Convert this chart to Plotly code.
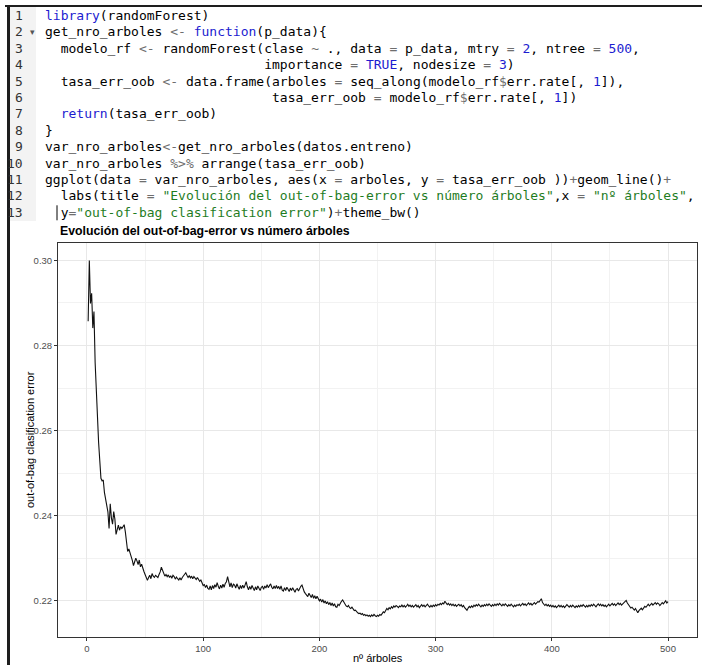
import plotly.graph_objects as go

# ---------------- data ----------------
tasa_err_oob = [
    0.2857, 0.3000, 0.2899, 0.2923, 0.2841, 0.2880, 0.2760, 0.2685, 0.2610, 0.2572,
    0.2530, 0.2488, 0.2482, 0.2484, 0.2455, 0.2440, 0.2420, 0.2409, 0.2370, 0.2428,
    0.2395, 0.2380, 0.2410, 0.2392, 0.2356, 0.2372, 0.2378, 0.2366, 0.2374, 0.2370,
    0.2376, 0.2379, 0.2362, 0.2335, 0.2316, 0.2322, 0.2313, 0.2310, 0.2295, 0.2283,
    0.2290, 0.2300, 0.2294, 0.2285, 0.2296, 0.2280, 0.2286, 0.2275, 0.2269, 0.2262,
    0.2256, 0.2248, 0.2255, 0.2260, 0.2252, 0.2264, 0.2258, 0.2255, 0.2260, 0.2257,
    0.2255, 0.2262, 0.2268, 0.2279, 0.2272, 0.2264, 0.2258, 0.2262, 0.2257, 0.2261,
    0.2255, 0.2259, 0.2253, 0.2260, 0.2257, 0.2251, 0.2256, 0.2252, 0.2249, 0.2254,
    0.2249, 0.2255, 0.2258, 0.2262, 0.2266, 0.2260, 0.2255, 0.2259, 0.2254, 0.2258,
    0.2252, 0.2257, 0.2254, 0.2250, 0.2255, 0.2251, 0.2246, 0.2249, 0.2242, 0.2236,
    0.2238, 0.2231, 0.2237, 0.2229, 0.2227, 0.2235, 0.2226, 0.2236, 0.2229, 0.2238,
    0.2232, 0.2243, 0.2234, 0.2228, 0.2237, 0.2230, 0.2239, 0.2232, 0.2241, 0.2245,
    0.2257, 0.2240, 0.2233, 0.2242, 0.2231, 0.2239, 0.2237, 0.2230, 0.2240, 0.2233,
    0.2227, 0.2236, 0.2229, 0.2237, 0.2230, 0.2237, 0.2245, 0.2233, 0.2226, 0.2234,
    0.2227, 0.2236, 0.2229, 0.2224, 0.2233, 0.2226, 0.2235, 0.2229, 0.2224, 0.2232,
    0.2234, 0.2227, 0.2235, 0.2230, 0.2238, 0.2231, 0.2236, 0.2240, 0.2232, 0.2228,
    0.2235, 0.2229, 0.2236, 0.2229, 0.2234, 0.2227, 0.2235, 0.2225, 0.2223, 0.2231,
    0.2224, 0.2232, 0.2227, 0.2222, 0.2230, 0.2224, 0.2231, 0.2226, 0.2220, 0.2227,
    0.2229, 0.2223, 0.2230, 0.2234, 0.2237, 0.2227, 0.2221, 0.2217, 0.2214, 0.2210,
    0.2218, 0.2213, 0.2208, 0.2215, 0.2206, 0.2212, 0.2205, 0.2211, 0.2203, 0.2200,
    0.2204, 0.2197, 0.2203, 0.2195, 0.2200, 0.2193, 0.2198, 0.2191, 0.2196, 0.2189,
    0.2195, 0.2188, 0.2193, 0.2186, 0.2185, 0.2192, 0.2189, 0.2196, 0.2199, 0.2202,
    0.2196, 0.2192, 0.2188, 0.2186, 0.2189, 0.2184, 0.2182, 0.2185, 0.2180, 0.2177,
    0.2178, 0.2174, 0.2172, 0.2170, 0.2171, 0.2168, 0.2170, 0.2166, 0.2168, 0.2165,
    0.2167, 0.2164, 0.2166, 0.2163, 0.2167, 0.2164, 0.2168, 0.2165, 0.2163, 0.2166,
    0.2164, 0.2168, 0.2166, 0.2170, 0.2174, 0.2172, 0.2178, 0.2182, 0.2179, 0.2184,
    0.2181, 0.2186, 0.2183, 0.2188, 0.2185, 0.2189, 0.2187, 0.2184, 0.2188, 0.2186,
    0.2190, 0.2186, 0.2189, 0.2185, 0.2188, 0.2192, 0.2187, 0.2190, 0.2186, 0.2189,
    0.2185, 0.2188, 0.2191, 0.2186, 0.2189, 0.2184, 0.2188, 0.2191, 0.2187, 0.2190,
    0.2186, 0.2189, 0.2192, 0.2188, 0.2185, 0.2189, 0.2186, 0.2190, 0.2187, 0.2191,
    0.2188, 0.2192, 0.2190, 0.2194, 0.2191, 0.2195, 0.2193, 0.2199, 0.2194, 0.2191,
    0.2194, 0.2190, 0.2193, 0.2189, 0.2192, 0.2188, 0.2191, 0.2187, 0.2190, 0.2192,
    0.2188, 0.2191, 0.2186, 0.2189, 0.2184, 0.2181, 0.2178, 0.2183, 0.2187, 0.2184,
    0.2188, 0.2185, 0.2190, 0.2187, 0.2191, 0.2188, 0.2192, 0.2189, 0.2186, 0.2190,
    0.2187, 0.2191, 0.2188, 0.2192, 0.2189, 0.2193, 0.2190, 0.2187, 0.2191, 0.2188,
    0.2192, 0.2189, 0.2193, 0.2190, 0.2194, 0.2191, 0.2188, 0.2192, 0.2189, 0.2193,
    0.2190, 0.2187, 0.2191, 0.2188, 0.2192, 0.2189, 0.2186, 0.2190, 0.2187, 0.2191,
    0.2189, 0.2192, 0.2188, 0.2191, 0.2194, 0.2190, 0.2193, 0.2189, 0.2192, 0.2195,
    0.2191, 0.2194, 0.2190, 0.2193, 0.2196, 0.2192, 0.2195, 0.2198, 0.2197, 0.2200,
    0.2205, 0.2196, 0.2191, 0.2189, 0.2192, 0.2188, 0.2191, 0.2187, 0.2190, 0.2186,
    0.2189, 0.2185, 0.2188, 0.2184, 0.2187, 0.2190, 0.2186, 0.2189, 0.2185, 0.2188,
    0.2184, 0.2187, 0.2191, 0.2188, 0.2185, 0.2189, 0.2186, 0.2190, 0.2187, 0.2184,
    0.2188, 0.2185, 0.2189, 0.2186, 0.2190, 0.2187, 0.2191, 0.2188, 0.2185, 0.2189,
    0.2186, 0.2190, 0.2187, 0.2191, 0.2188, 0.2192, 0.2189, 0.2186, 0.2190, 0.2193,
    0.2189, 0.2192, 0.2188, 0.2191, 0.2187, 0.2190, 0.2186, 0.2189, 0.2192, 0.2188,
    0.2191, 0.2194, 0.2190, 0.2193, 0.2189, 0.2192, 0.2195, 0.2191, 0.2194, 0.2190,
    0.2193, 0.2196, 0.2199, 0.2201, 0.2195, 0.2190, 0.2186, 0.2183, 0.2185, 0.2181,
    0.2178, 0.2182, 0.2176, 0.2172, 0.2177, 0.2180, 0.2183, 0.2179, 0.2184, 0.2187,
    0.2185, 0.2189, 0.2192, 0.2188, 0.2191, 0.2194, 0.2190, 0.2193, 0.2196, 0.2192,
    0.2195, 0.2193, 0.2189, 0.2192, 0.2196, 0.2193, 0.2197, 0.2200, 0.2195, 0.2198,
]
arboles = list(range(1, len(tasa_err_oob) + 1))

x_tick_vals = [0, 100, 200, 300, 400, 500]
x_tick_text = ["0", "100", "200", "300", "400", "500"]
x_minor_vals = [50, 150, 250, 350, 450]
y_tick_vals = [0.22, 0.24, 0.26, 0.28, 0.30]
y_tick_text = ["0.22", "0.24", "0.26", "0.28", "0.30"]
y_minor_vals = [0.23, 0.25, 0.27, 0.29]

chart_title = "Evolución del out-of-bag-error vs número árboles"
x_title = "nº árboles"
y_title = "out-of-bag clasification error"

# ---------------- code listing (R source shown above the chart) ----------------
D, K, N, S, O = "#000000", "#1c1cd0", "#1c1cd0", "#1f7d1f", "#6e6e6e"
code_lines = [
    [("library", K), ("(randomForest)", D)],
    [("get_nro_arboles ", D), ("<-", O), (" ", D), ("function", K), ("(p_data){", D)],
    [("  modelo_rf ", D), ("<-", O), (" randomForest(clase ", D), ("~", O), (" ., data ", D),
     ("=", O), (" p_data, mtry ", D), ("=", O), (" ", D), ("2", N), (", ntree ", D), ("=", O),
     (" ", D), ("500", N), (",", D)],
    [(" " * 28 + "importance ", D), ("=", O), (" ", D), ("TRUE", N), (", nodesize ", D),
     ("=", O), (" ", D), ("3", N), (")", D)],
    [("  tasa_err_oob ", D), ("<-", O), (" data.frame(arboles ", D), ("=", O),
     (" seq_along(modelo_rf", D), ("$", O), ("err.rate[, ", D), ("1", N), ("]),", D)],
    [(" " * 29 + "tasa_err_oob ", D), ("=", O), (" modelo_rf", D), ("$", O),
     ("err.rate[, ", D), ("1", N), ("])", D)],
    [("  ", D), ("return", K), ("(tasa_err_oob)", D)],
    [("}", D)],
    [("var_nro_arboles", D), ("<-", O), ("get_nro_arboles(datos.entreno)", D)],
    [("var_nro_arboles ", D), ("%>%", O), (" arrange(tasa_err_oob)", D)],
    [("ggplot(data ", D), ("=", O), (" var_nro_arboles, aes(x ", D), ("=", O),
     (" arboles, y ", D), ("=", O), (" tasa_err_oob ))", D), ("+", O), ("geom_line()", D),
     ("+", O)],
    [("  labs(title ", D), ("=", O), (" ", D),
     ('"Evolución del out-of-bag-error vs número árboles"', S), (",x ", D), ("=", O),
     (" ", D), ('"nº árboles"', S), (",", D)],
    [("  y", D), ("=", O), ('"out-of-bag clasification error"', S), (")", D), ("+", O),
     ("theme_bw()", D)],
]

W, H = 702, 665


def fx(p):
    return p / W


def fy(p):
    return 1 - p / H


def esc(t):
    return (t.replace("&", "&amp;").replace("<", "&lt;").replace(">", "&gt;")
            .replace(" ", "\u00a0"))


fig = go.Figure()
fig.add_trace(go.Scatter(x=arboles, y=tasa_err_oob, mode="lines",
                         line=dict(color="#111111", width=1.1), hoverinfo="skip",
                         showlegend=False))

annotations = []
shapes = []

# editor frame
shapes.append(dict(type="rect", xref="paper", yref="paper", x0=fx(9), x1=fx(36),
                   y0=fy(221), y1=fy(7), fillcolor="#f3f3f3", line=dict(width=0), layer="below"))
shapes.append(dict(type="line", xref="paper", yref="paper", x0=fx(5), x1=fx(702),
                   y0=fy(6), y1=fy(6), line=dict(color="#1e1e1e", width=2)))
shapes.append(dict(type="line", xref="paper", yref="paper", x0=fx(8.5), x1=fx(8.5),
                   y0=fy(5), y1=fy(665), line=dict(color="#1e1e1e", width=3)))

line0, step = 15.5, 16.4
for i, toks in enumerate(code_lines):
    yc = line0 + i * step
    txt = "".join('<span style="color:%s">%s</span>' % (c, esc(t)) for t, c in toks)
    annotations.append(dict(text=txt, xref="paper", yref="paper", x=fx(43), y=fy(yc),
                            xanchor="left", yanchor="middle", showarrow=False, align="left",
                            font=dict(family="DejaVu Sans Mono", size=13, color="#000")))
    annotations.append(dict(text=str(i + 1), xref="paper", yref="paper", x=fx(25), y=fy(yc),
                            xanchor="right", yanchor="middle", showarrow=False,
                            font=dict(family="DejaVu Sans Mono", size=13, color="#333333")))
# fold marker on line 2
annotations.append(dict(text="▾", xref="paper", yref="paper", x=fx(32), y=fy(line0 + step),
                        xanchor="center", yanchor="middle", showarrow=False,
                        font=dict(family="DejaVu Sans", size=9, color="#555555")))
# text cursor on line 13
shapes.append(dict(type="line", xref="paper", yref="paper", x0=fx(57), x1=fx(57),
                   y0=fy(line0 + 12 * step - 7), y1=fy(line0 + 12 * step + 8),
                   line=dict(color="#000000", width=1)))

# chart title and axis titles
annotations.append(dict(text="<b>%s</b>" % chart_title, xref="paper", yref="paper",
                        x=fx(58), y=fy(231), xanchor="left", yanchor="middle", showarrow=False,
                        font=dict(family="Liberation Sans", size=12.3, color="#000000")))
annotations.append(dict(text=x_title, xref="paper", yref="paper", x=fx(377.5), y=fy(658),
                        xanchor="center", yanchor="middle", showarrow=False,
                        font=dict(family="Liberation Sans", size=11, color="#000000")))
annotations.append(dict(text=y_title, xref="paper", yref="paper", x=fx(30), y=fy(440),
                        xanchor="center", yanchor="middle", showarrow=False, textangle=-90,
                        font=dict(family="Liberation Sans", size=11, color="#000000")))

fig.update_layout(
    width=W, height=H, margin=dict(l=0, r=0, t=0, b=0),
    paper_bgcolor="white", plot_bgcolor="white",
    annotations=annotations, shapes=shapes, showlegend=False,
    xaxis=dict(domain=[fx(58), fx(697)], range=[-24.95, 524.95], automargin=False,
               tickmode="array", tickvals=x_tick_vals, ticktext=x_tick_text,
               ticks="outside", ticklen=3, tickcolor="#333333", tickwidth=1,
               tickfont=dict(family="Liberation Sans", size=9.5, color="#4d4d4d"),
               showgrid=True, gridcolor="#e8e8e8", gridwidth=1, zeroline=False,
               showline=True, mirror=True, linecolor="#333333", linewidth=1,
               minor=dict(tickmode="array", tickvals=x_minor_vals, showgrid=True,
                          gridcolor="#f2f2f2", gridwidth=0.6, ticks="")),
    yaxis=dict(domain=[fy(637), fy(243)], range=[0.2115, 0.3041], automargin=False,
               tickmode="array", tickvals=y_tick_vals, ticktext=y_tick_text,
               ticks="outside", ticklen=3, tickcolor="#333333", tickwidth=1,
               tickfont=dict(family="Liberation Sans", size=9.5, color="#4d4d4d"),
               showgrid=True, gridcolor="#e8e8e8", gridwidth=1, zeroline=False,
               showline=True, mirror=True, linecolor="#333333", linewidth=1,
               minor=dict(tickmode="array", tickvals=y_minor_vals, showgrid=True,
                          gridcolor="#f2f2f2", gridwidth=0.6, ticks="")),
)

fig.write_html("out.html", config={"displayModeBar": False},
               post_script="document.body.style.margin='0px';document.body.style.padding='0px';")
